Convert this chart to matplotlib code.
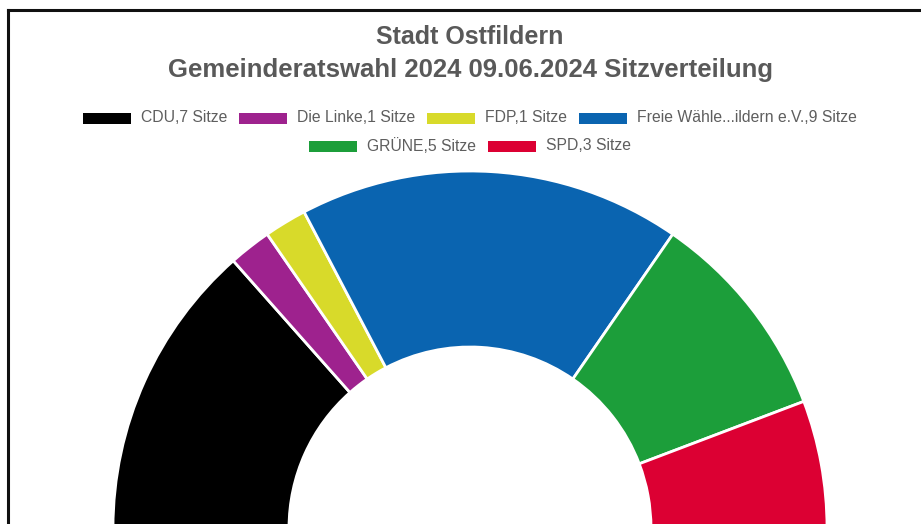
import matplotlib
matplotlib.use("Agg")
import matplotlib.pyplot as plt
from matplotlib.patches import Rectangle
from matplotlib.lines import Line2D

parties = ["CDU", "Die Linke", "FDP", "Freie Wähle...ildern e.V.", "GRÜNE", "SPD"]
seats = [7, 1, 1, 9, 5, 3]
colors = ["#000000", "#9e228e", "#d8da2a", "#0a64b0", "#1c9e3a", "#dc0033"]
title_lines = ["Stadt Ostfildern", "Gemeinderatswahl 2024 09.06.2024 Sitzverteilung"]

W, H = 921, 524
fig = plt.figure(figsize=(W / 100, H / 100), dpi=100)
fig.patch.set_facecolor("white")

ax = fig.add_axes([0, 0, 1, 1])

cx, cy = 470, H - 528
R = 357
ring = 176
total = sum(seats)
wedges, _ = ax.pie(seats + [total], colors=colors + ["white"], startangle=180,
                   counterclock=False, radius=R, center=(cx, cy),
                   wedgeprops=dict(width=ring, edgecolor="white", linewidth=2),
                   frame=True)
wedges[-1].set_visible(False)
ax.set_xlim(0, W)
ax.set_ylim(0, H)
ax.set_aspect("equal")
ax.axis("off")

# title
fig.text(cx / W, 1 - 37 / H, title_lines[0], ha="center", va="center",
         fontsize=18, fontweight="bold", color="#595959", family="Liberation Sans")
fig.text(cx / W, 1 - 70 / H, title_lines[1], ha="center", va="center",
         fontsize=18.5, fontweight="bold", color="#595959", family="Liberation Sans")

# legend drawn in rows, centered
labels = [f"{p},{s} Sitze" for p, s in zip(parties, seats)]
rows = [[0, 1, 2, 3], [4, 5]]
row_y = [118, 146]
rect_w, rect_h, gap, spacing = 48, 11, 10, 12
fig.canvas.draw()
renderer = fig.canvas.get_renderer()
for row, yy in zip(rows, row_y):
    texts = []
    widths = []
    for i in row:
        t = fig.text(0, 1 - yy / H, labels[i], ha="left", va="center", fontsize=11.3,
                     color="#5e5e5e", family="Liberation Sans")
        bb = t.get_window_extent(renderer)
        texts.append(t)
        widths.append(bb.width)
    total_w = sum(rect_w + gap + w for w in widths) + spacing * (len(row) - 1)
    x = cx - total_w / 2
    for i, t, w in zip(row, texts, widths):
        fig.patches.append(Rectangle((x / W, 1 - (yy + rect_h / 2) / H), rect_w / W, rect_h / H,
                                     transform=fig.transFigure, facecolor=colors[i],
                                     edgecolor="none"))
        t.set_position(((x + rect_w + gap) / W, 1 - yy / H))
        x += rect_w + gap + w + spacing

# black frame (top and left)
fig.lines.append(Line2D([7.5 / W, 1], [1 - 9.5 / H, 1 - 9.5 / H], transform=fig.transFigure,
                        color="#111111", linewidth=2.2))
fig.lines.append(Line2D([7.5 / W, 7.5 / W], [1 - 9.5 / H, 0], transform=fig.transFigure,
                        color="#111111", linewidth=2.2))

fig.savefig("out.png", dpi=100, facecolor="white")
